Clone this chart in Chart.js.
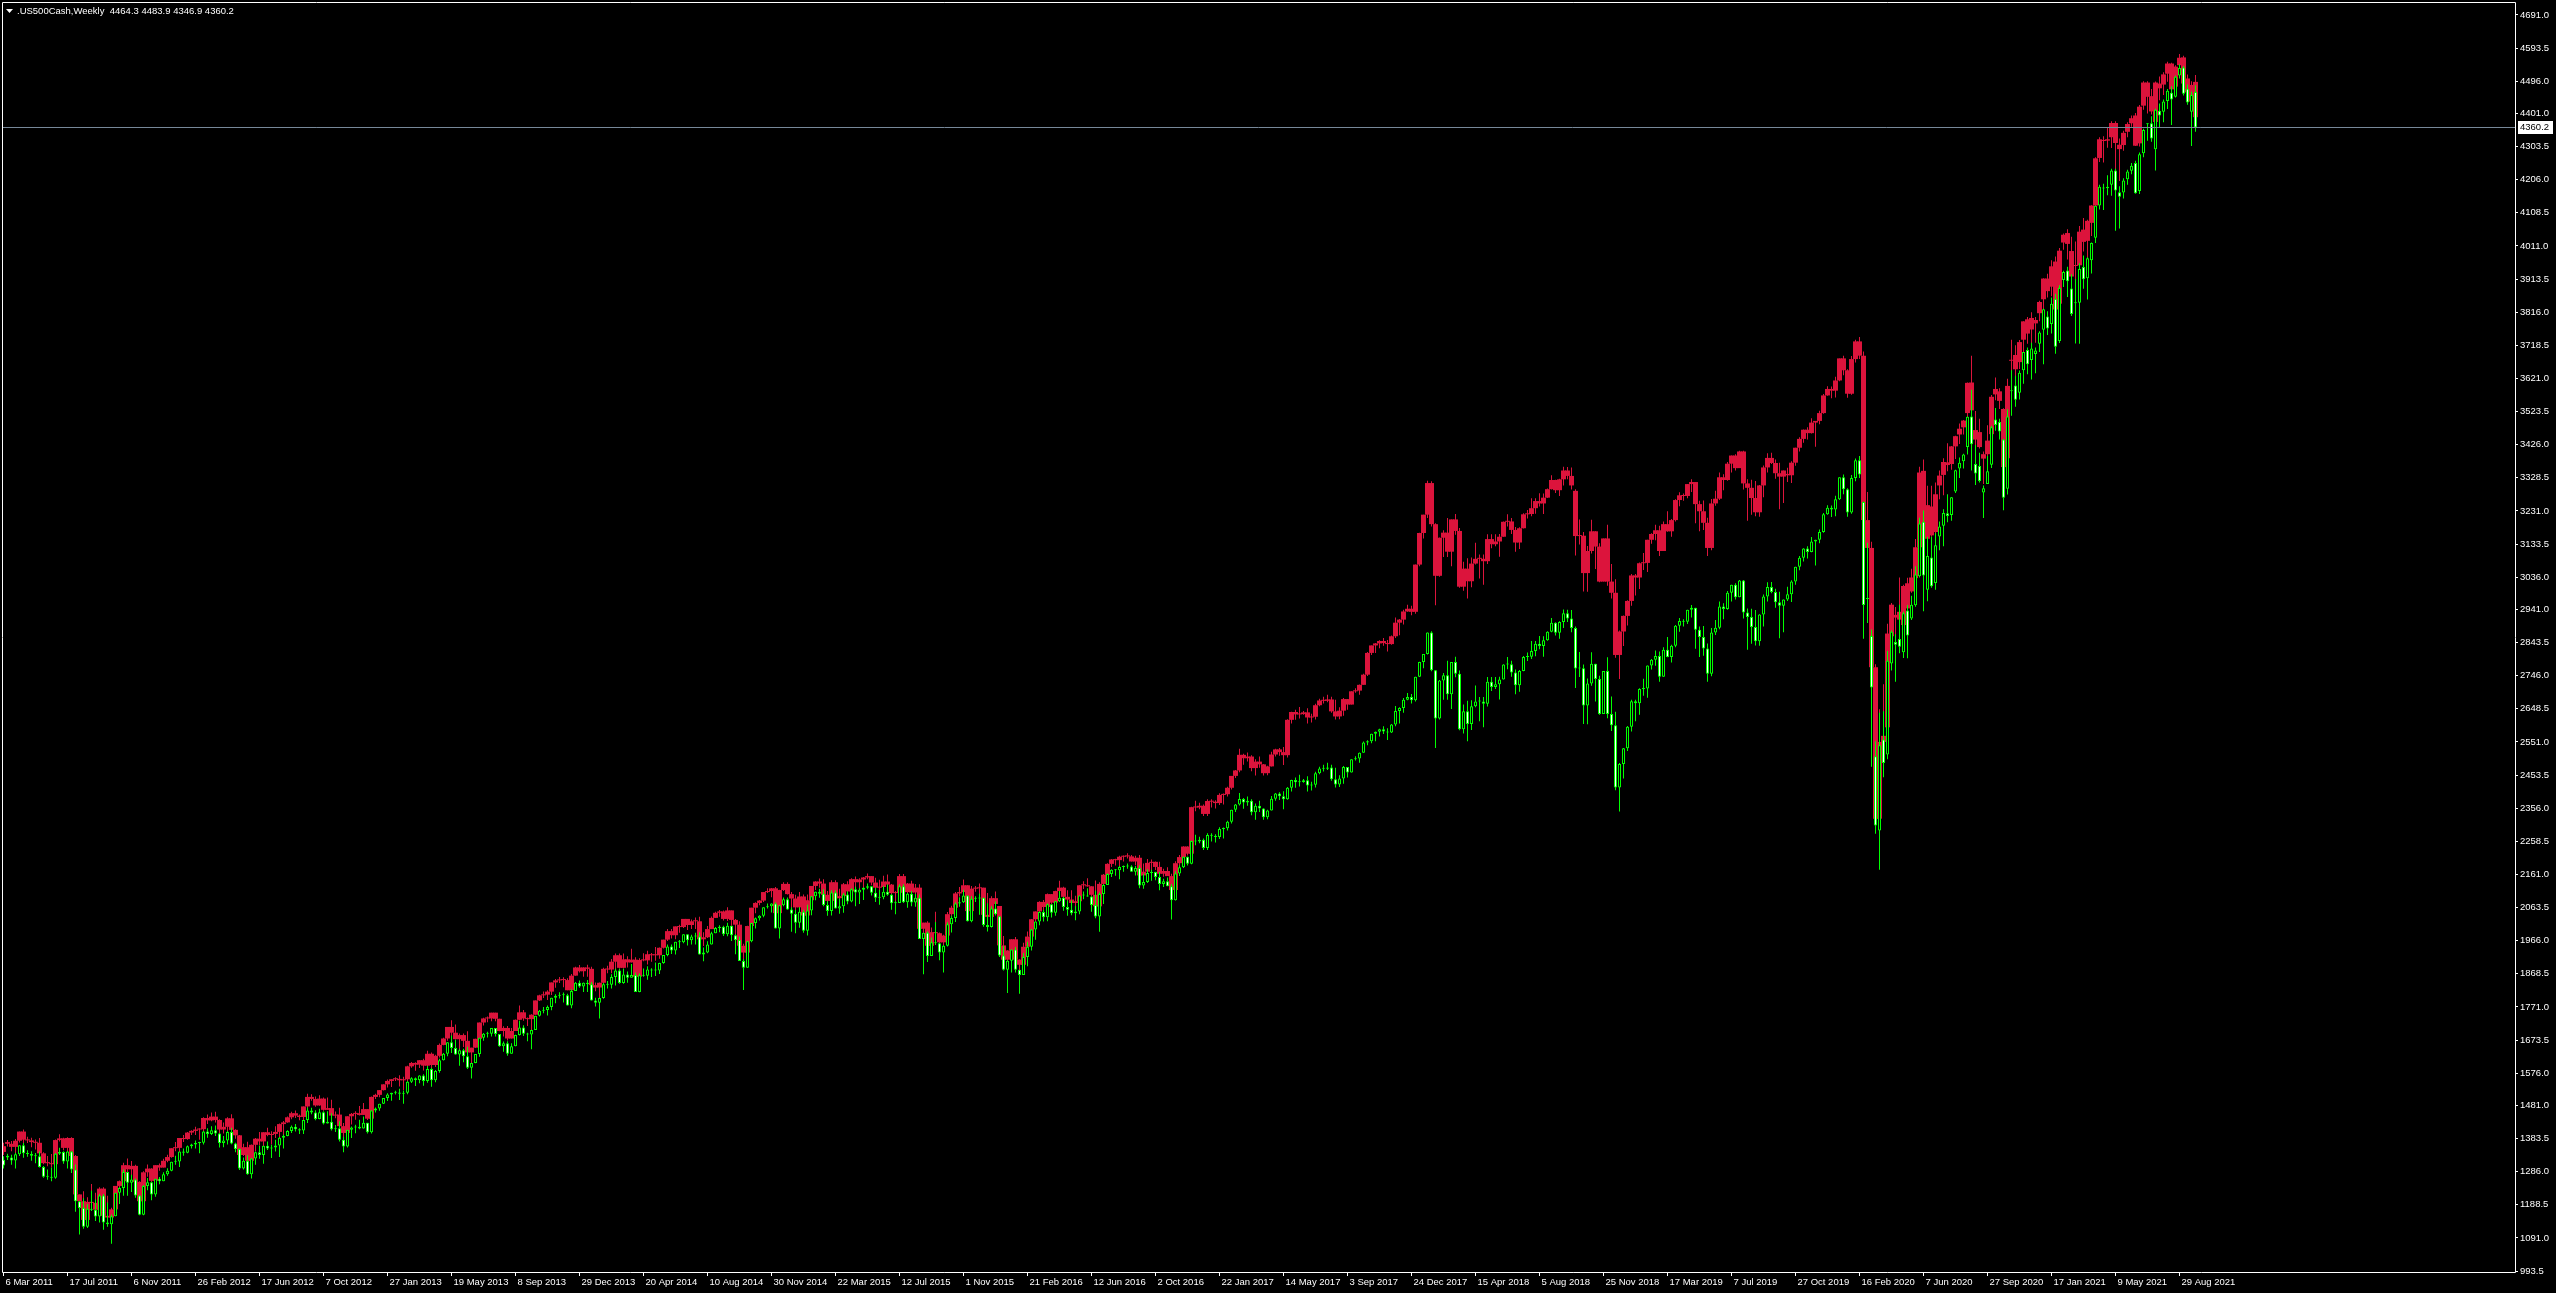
<!DOCTYPE html>
<html>
<head>
    <title>.US500Cash,Weekly</title>
    <script src="https://cdn.jsdelivr.net/npm/chart.js"></script>
    <style>
        body {
            margin: 0;
            padding: 0;
            background-color: #000;
            overflow: hidden;
        }

        canvas {
            display: block;
        }
    </style>
</head>
<body>
    <canvas id="myChart" width="2556" height="1293"></canvas>

    <script>
        var symbolTitle = '.US500Cash,Weekly';
        var lastBar = [4464.3, 4483.9, 4346.9, 4360.2];
        var bidPrice = 4360.2;

        // one date label every 16 weekly bars, starting at bar 0
        var LABEL_STEP = 16;
        var xTickLabels = ['6 Mar 2011', '17 Jul 2011', '6 Nov 2011', '26 Feb 2012', '17 Jun 2012', '7 Oct 2012',
            '27 Jan 2013', '19 May 2013', '8 Sep 2013', '29 Dec 2013', '20 Apr 2014', '10 Aug 2014', '30 Nov 2014',
            '22 Mar 2015', '12 Jul 2015', '1 Nov 2015', '21 Feb 2016', '12 Jun 2016', '2 Oct 2016', '22 Jan 2017',
            '14 May 2017', '3 Sep 2017', '24 Dec 2017', '15 Apr 2018', '5 Aug 2018', '25 Nov 2018', '17 Mar 2019',
            '7 Jul 2019', '27 Oct 2019', '16 Feb 2020', '7 Jun 2020', '27 Sep 2020', '17 Jan 2021', '9 May 2021',
            '29 Aug 2021'];

        var yTickValues = [4691.0, 4593.5, 4496.0, 4401.0, 4303.5, 4206.0, 4108.5, 4011.0, 3913.5, 3816.0, 3718.5,
            3621.0, 3523.5, 3426.0, 3328.5, 3231.0, 3133.5, 3036.0, 2941.0, 2843.5, 2746.0, 2648.5, 2551.0, 2453.5,
            2356.0, 2258.5, 2161.0, 2063.5, 1966.0, 1868.5, 1771.0, 1673.5, 1576.0, 1481.0, 1383.5, 1286.0, 1188.5,
            1091.0, 993.5];

        // green candles (weekly OHLC)
        var greenOpen = [
            1321,1333,1328,1319,1337,1364,1340,1338,1333,1331,
            1300,1271,1271,1268,1339,1344,1316,1345,1292,1199,
            1179,1124,1177,1174,1154,1216,1136,1131,1155,1224,
            1238,1285,1253,1263,1216,1159,1244,1255,1219,1265,
            1258,1278,1289,1315,1316,1345,1342,1361,1366,1370,
            1371,1404,1397,1408,1398,1370,1378,1403,1369,1353,
            1295,1318,1278,1325,1343,1335,1362,1354,1357,1363,
            1386,1391,1406,1418,1411,1407,1438,1466,1460,1441,
            1461,1428,1433,1411,1414,1380,1360,1409,1416,1418,
            1413,1430,1402,1466,1472,1486,1503,1513,1518,1519,
            1515,1518,1551,1561,1556,1569,1553,1588,1555,1582,
            1614,1633,1667,1650,1631,1643,1626,1592,1606,1632,
            1680,1692,1692,1709,1691,1655,1664,1633,1655,1688,
            1710,1692,1690,1703,1745,1760,1762,1771,1798,1804,
            1806,1805,1775,1818,1842,1831,1842,1838,1790,1783,
            1797,1838,1836,1859,1878,1841,1866,1857,1865,1815,
            1864,1863,1881,1878,1878,1900,1924,1949,1937,1963,
            1961,1985,1967,1978,1978,1925,1931,1955,1988,2003,
            2007,1985,2010,1982,1968,1906,1886,1964,2018,2032,
            2039,2064,2067,2075,2002,2070,2088,2058,2045,2019,
            2051,1995,2055,2097,2110,2104,2071,2053,2108,2061,
            2067,2102,2081,2117,2108,2116,2122,2126,2107,2092,
            2094,2110,2101,2076,2077,2126,2079,2104,2078,2092,
            1971,1989,1921,1961,1958,1931,1951,2014,2033,2075,
            2079,2099,2023,2089,2090,2092,2012,2006,2061,2038,
            1922,1880,1907,1940,1880,1865,1918,1948,1999,2022,
            2050,2035,2073,2048,2082,2092,2065,2057,2047,2052,
            2099,2099,2096,2071,2037,2103,2130,2162,2175,2173,
            2183,2184,2184,2169,2180,2128,2139,2165,2168,2153,
            2133,2141,2126,2085,2164,2182,2213,2192,2259,2258,
            2263,2239,2277,2275,2271,2295,2297,2316,2351,2367,
            2383,2373,2378,2344,2363,2355,2329,2349,2384,2399,
            2391,2382,2416,2439,2432,2433,2438,2423,2425,2459,
            2473,2472,2476,2441,2426,2443,2477,2461,2500,2502,
            2519,2549,2553,2575,2581,2588,2582,2579,2602,2642,
            2651,2675,2683,2674,2743,2786,2810,2873,2762,2620,
            2732,2747,2691,2786,2752,2588,2641,2604,2656,2670,
            2670,2663,2728,2713,2721,2735,2779,2780,2755,2718,
            2760,2801,2802,2819,2840,2833,2850,2875,2902,2872,
            2904,2930,2914,2886,2767,2768,2658,2723,2781,2736,
            2633,2760,2633,2600,2417,2486,2532,2596,2671,2665,
            2707,2708,2776,2793,2804,2743,2822,2801,2834,2893,
            2907,2905,2940,2946,2881,2860,2826,2752,2873,2887,
            2950,2942,2990,3014,2977,3026,2932,2919,2889,2847,
            2926,2979,3007,2992,2962,2952,2970,2986,3023,3067,
            3093,3120,3110,3141,3146,3169,3221,3240,3235,3265,
            3330,3295,3226,3328,3380,3257,2974,2863,2509,2290,
            2558,2514,2782,2845,2854,2815,2938,2914,2953,3039,
            3199,2999,3094,3019,3156,3187,3224,3219,3288,3356,
            3377,3419,3509,3369,3363,3285,3310,3367,3500,3493,
            3441,3296,3583,3600,3579,3645,3705,3675,3693,3723,
            3764,3803,3781,3855,3731,3911,3939,3886,3842,3844,
            3949,3916,3969,4035,4130,4183,4185,4191,4233,4169,
            4168,4207,4232,4255,4173,4284,4369,4372,4296,4409,
            4406,4438,4462,4450,4513,4536,4474,4406,4464
        ];
        var greenHigh = [
            1331,1339,1336,1342,1364,1370,1349,1346,1341,1345,
            1303,1292,1298,1341,1356,1346,1347,1347,1307,1199,
            1208,1191,1230,1204,1220,1220,1195,1160,1224,1240,
            1292,1285,1277,1266,1218,1247,1267,1256,1265,1270,
            1284,1296,1315,1333,1345,1354,1363,1368,1378,1374,
            1406,1414,1420,1422,1400,1391,1406,1415,1371,1354,
            1328,1334,1326,1345,1363,1362,1375,1365,1380,1388,
            1395,1408,1422,1426,1414,1438,1475,1474,1467,1471,
            1464,1464,1458,1423,1434,1389,1409,1419,1424,1439,
            1448,1430,1467,1475,1486,1503,1517,1518,1524,1530,
            1525,1553,1564,1563,1570,1573,1597,1592,1585,1618,
            1635,1667,1687,1674,1648,1648,1654,1606,1632,1680,
            1694,1698,1709,1709,1691,1669,1670,1664,1689,1730,
            1717,1695,1704,1745,1762,1771,1775,1798,1808,1814,
            1813,1810,1823,1844,1849,1843,1850,1844,1798,1798,
            1841,1847,1867,1883,1883,1883,1875,1897,1872,1869,
            1884,1891,1885,1902,1901,1924,1955,1955,1963,1968,
            1985,1985,1983,1989,1991,1946,1964,1992,2006,2011,
            2010,2019,2010,1985,1978,1912,1965,2018,2034,2041,
            2064,2075,2076,2079,2071,2093,2093,2064,2056,2064,
            2057,2072,2097,2111,2119,2117,2082,2114,2114,2089,
            2106,2111,2120,2125,2120,2123,2134,2126,2121,2115,
            2127,2131,2103,2082,2132,2132,2106,2112,2103,2102,
            1989,1993,1975,2021,1960,1953,2020,2039,2079,2094,
            2116,2099,2097,2097,2104,2092,2076,2067,2081,2038,
            1950,1908,1940,1947,1881,1930,1963,2000,2022,2052,
            2056,2075,2073,2083,2112,2095,2084,2084,2068,2099,
            2111,2120,2096,2113,2108,2132,2164,2176,2177,2186,
            2187,2193,2188,2186,2188,2163,2176,2175,2169,2168,
            2148,2152,2133,2170,2188,2214,2214,2260,2278,2272,
            2267,2282,2282,2279,2300,2299,2319,2351,2368,2401,
            2386,2390,2382,2370,2378,2356,2351,2392,2401,2403,
            2406,2418,2440,2446,2454,2442,2450,2434,2463,2478,
            2484,2490,2484,2475,2453,2480,2477,2500,2509,2520,
            2552,2556,2575,2582,2590,2597,2591,2604,2657,2653,
            2680,2695,2692,2743,2787,2810,2873,2877,2763,2733,
            2754,2790,2786,2802,2761,2661,2672,2674,2717,2683,
            2683,2742,2742,2742,2743,2780,2801,2790,2764,2763,
            2804,2814,2848,2848,2863,2862,2877,2916,2903,2906,
            2941,2940,2939,2891,2816,2779,2738,2815,2781,2746,
            2760,2800,2685,2640,2489,2533,2598,2675,2675,2709,
            2737,2776,2795,2820,2817,2830,2860,2837,2895,2916,
            2912,2940,2954,2946,2891,2892,2841,2886,2910,2964,
            2959,2995,3014,3018,3028,3028,2944,2943,2939,2927,
            2985,3021,3022,3002,2993,2970,3008,3027,3067,3098,
            3121,3127,3154,3146,3176,3225,3248,3247,3276,3330,
            3338,3298,3337,3385,3393,3259,3137,2882,2553,2637,
            2641,2819,2880,2868,2955,2934,2954,2981,3068,3211,
            3232,3155,3155,3165,3200,3236,3280,3272,3352,3388,
            3399,3509,3588,3425,3402,3306,3393,3482,3534,3502,
            3443,3530,3645,3629,3644,3699,3712,3726,3712,3760,
            3826,3819,3859,3870,3895,3938,3950,3928,3914,3960,
            3983,3978,4021,4129,4191,4194,4219,4238,4238,4187,
            4210,4235,4255,4262,4286,4356,4372,4393,4415,4430,
            4442,4473,4481,4513,4546,4541,4486,4466,4484
        ];
        var greenLow = [
            1295,1320,1306,1295,1332,1327,1330,1318,1311,1298,
            1268,1262,1258,1265,1335,1309,1295,1282,1168,1101,
            1118,1120,1170,1141,1136,1115,1124,1074,1155,1191,
            1215,1215,1226,1209,1158,1158,1231,1202,1212,1249,
            1258,1274,1287,1306,1300,1333,1340,1354,1354,1340,
            1366,1386,1394,1391,1357,1358,1366,1367,1343,1291,
            1292,1277,1266,1306,1324,1309,1350,1326,1345,1329,
            1354,1390,1400,1404,1397,1397,1429,1455,1437,1440,
            1425,1428,1407,1403,1375,1343,1357,1385,1399,1411,
            1413,1398,1398,1460,1465,1485,1494,1495,1513,1497,
            1486,1514,1547,1538,1546,1539,1548,1536,1549,1577,
            1613,1626,1635,1630,1598,1608,1588,1560,1605,1624,
            1671,1681,1684,1684,1654,1639,1627,1633,1655,1687,
            1685,1670,1646,1703,1743,1752,1746,1761,1782,1796,
            1784,1775,1767,1818,1827,1815,1815,1790,1772,1737,
            1795,1825,1825,1834,1839,1839,1842,1857,1815,1814,
            1860,1851,1859,1862,1868,1898,1920,1927,1925,1944,
            1958,1952,1955,1955,1925,1905,1929,1955,1988,1991,
            1980,1979,1965,1926,1906,1821,1886,1961,2002,2025,
            2035,2061,2049,2002,1972,2067,2057,1992,1988,2004,
            1989,1981,2041,2085,2092,2067,2039,2040,2061,2045,
            2048,2073,2079,2067,2074,2086,2117,2099,2080,2072,
            2088,2098,2057,2044,2077,2077,2063,2067,2066,1971,
            1867,1903,1921,1953,1908,1872,1949,1990,2021,2066,
            2077,2022,2020,2080,2042,2007,1993,2005,2040,1918,
            1878,1812,1872,1872,1810,1865,1891,1937,1969,2011,
            2022,2023,2034,2039,2080,2054,2039,2041,2026,2044,
            2088,2095,2051,2032,1992,2074,2130,2153,2157,2147,
            2169,2178,2169,2158,2120,2119,2136,2142,2144,2114,
            2124,2126,2028,2084,2156,2180,2187,2191,2247,2253,
            2233,2233,2258,2255,2265,2267,2290,2311,2345,2364,
            2354,2363,2335,2322,2345,2322,2323,2349,2378,2380,
            2353,2381,2405,2416,2420,2431,2405,2408,2417,2456,
            2464,2468,2437,2417,2418,2428,2446,2461,2496,2490,
            2519,2541,2547,2553,2567,2574,2557,2577,2597,2605,
            2637,2674,2664,2670,2742,2768,2808,2759,2533,2617,
            2675,2675,2648,2741,2585,2576,2553,2586,2653,2612,
            2594,2655,2701,2707,2676,2735,2765,2743,2691,2699,
            2759,2789,2795,2803,2824,2802,2849,2874,2864,2855,
            2886,2904,2874,2710,2742,2604,2603,2716,2670,2631,
            2633,2621,2583,2409,2346,2443,2524,2582,2612,2631,
            2687,2681,2764,2775,2728,2743,2800,2785,2830,2875,
            2891,2898,2917,2825,2801,2805,2728,2744,2866,2883,
            2912,2940,2964,2970,2977,2914,2822,2840,2835,2834,
            2891,2964,2989,2946,2856,2874,2966,2963,3014,3056,
            3082,3091,3109,3070,3136,3167,3220,3213,3215,3263,
            3280,3214,3223,3318,3328,2855,2901,2478,2281,2175,
            2447,2500,2761,2728,2812,2798,2797,2910,2949,3035,
            2936,2965,3005,2999,3115,3127,3198,3202,3284,3328,
            3356,3397,3350,3307,3315,3210,3310,3357,3467,3441,
            3233,3279,3511,3538,3559,3605,3633,3618,3636,3699,
            3663,3749,3753,3694,3725,3890,3861,3805,3724,3723,
            3885,3853,3930,4020,4118,4117,4160,4159,4056,4062,
            4151,4191,4222,4165,4164,4272,4321,4318,4233,4360,
            4375,4414,4367,4448,4504,4454,4427,4305,4347
        ];
        var greenClose = [
            1304,1328,1319,1337,1364,1340,1338,1333,1331,1300,
            1271,1271,1268,1339,1344,1316,1345,1292,1199,1179,
            1124,1177,1174,1154,1216,1136,1131,1155,1224,1238,
            1285,1253,1263,1216,1159,1244,1255,1219,1265,1258,
            1278,1289,1315,1316,1345,1342,1361,1366,1370,1371,
            1404,1397,1408,1398,1370,1378,1403,1369,1353,1295,
            1318,1278,1325,1343,1335,1362,1354,1357,1363,1386,
            1391,1406,1418,1411,1407,1438,1466,1460,1441,1461,
            1428,1433,1411,1414,1380,1360,1409,1416,1418,1413,
            1430,1402,1466,1472,1486,1503,1513,1518,1519,1515,
            1518,1551,1561,1556,1569,1553,1588,1555,1582,1614,
            1633,1667,1650,1631,1643,1626,1592,1606,1632,1680,
            1692,1692,1709,1691,1655,1664,1633,1655,1688,1710,
            1692,1690,1703,1745,1760,1762,1771,1798,1804,1806,
            1805,1775,1818,1842,1831,1842,1838,1790,1783,1797,
            1838,1836,1859,1878,1841,1866,1857,1865,1815,1864,
            1863,1881,1878,1878,1900,1924,1949,1937,1963,1961,
            1985,1967,1978,1978,1925,1931,1955,1988,2003,2007,
            1985,2010,1982,1968,1906,1886,1964,2018,2032,2039,
            2064,2067,2075,2002,2070,2088,2058,2045,2019,2051,
            1995,2055,2097,2110,2104,2071,2053,2108,2061,2067,
            2102,2081,2117,2108,2116,2122,2126,2107,2092,2094,
            2110,2101,2076,2077,2126,2079,2104,2078,2092,1971,
            1989,1921,1961,1958,1931,1951,2014,2033,2075,2079,
            2099,2023,2089,2090,2092,2012,2006,2061,2044,1922,
            1880,1907,1940,1880,1865,1918,1948,1999,2022,2050,
            2035,2073,2048,2082,2092,2065,2057,2047,2052,2099,
            2099,2096,2071,2037,2103,2130,2162,2175,2173,2183,
            2184,2184,2169,2180,2128,2139,2165,2168,2153,2133,
            2141,2126,2085,2164,2182,2213,2192,2259,2258,2263,
            2239,2277,2275,2271,2295,2297,2316,2351,2367,2383,
            2373,2378,2344,2363,2355,2329,2349,2384,2399,2391,
            2382,2416,2439,2432,2433,2438,2423,2425,2459,2473,
            2472,2476,2441,2426,2443,2477,2461,2500,2502,2519,
            2549,2553,2575,2581,2588,2582,2579,2602,2642,2651,
            2675,2683,2674,2743,2786,2810,2873,2762,2620,2732,
            2747,2691,2786,2752,2588,2641,2604,2656,2670,2670,
            2663,2728,2713,2721,2735,2779,2780,2755,2718,2760,
            2801,2802,2819,2840,2833,2850,2875,2902,2872,2904,
            2930,2914,2886,2767,2768,2658,2723,2781,2736,2633,
            2760,2633,2600,2417,2486,2532,2596,2671,2665,2707,
            2708,2776,2793,2804,2743,2822,2801,2834,2893,2907,
            2905,2940,2946,2881,2860,2826,2752,2873,2887,2950,
            2942,2990,3014,2977,3026,2932,2919,2889,2847,2926,
            2979,3007,2992,2962,2952,2970,2986,3023,3067,3093,
            3120,3110,3141,3146,3169,3221,3240,3235,3265,3330,
            3295,3226,3328,3380,3338,2954,2972,2711,2305,2541,
            2489,2790,2875,2837,2831,2930,2864,2955,3044,3194,
            3041,3098,3009,3130,3185,3225,3216,3271,3351,3373,
            3397,3508,3427,3341,3319,3298,3348,3477,3484,3465,
            3270,3509,3585,3558,3638,3699,3663,3709,3703,3756,
            3825,3768,3841,3714,3887,3934,3907,3811,3842,3943,
            3913,3975,4020,4129,4185,4180,4181,4233,4174,4156,
            4204,4230,4247,4166,4281,4352,4370,4327,4412,4395,
            4436,4468,4442,4509,4535,4459,4433,4455,4360
        ];

        // red candles (weekly OHLC)
        var redOpen = [
            1361,1373,1368,1359,1377,1404,1380,1378,1373,1371,
            1340,1311,1311,1308,1379,1384,1356,1385,1332,1219,
            1199,1144,1197,1194,1174,1236,1156,1151,1175,1244,
            1258,1305,1293,1303,1256,1199,1284,1295,1259,1305,
            1298,1318,1329,1355,1356,1385,1382,1401,1406,1410,
            1411,1444,1437,1448,1438,1410,1418,1443,1409,1393,
            1335,1358,1318,1365,1383,1375,1402,1394,1397,1403,
            1426,1431,1446,1458,1451,1447,1478,1506,1500,1481,
            1501,1468,1473,1451,1454,1420,1400,1449,1456,1458,
            1453,1470,1442,1506,1512,1526,1543,1553,1558,1559,
            1555,1558,1596,1606,1601,1614,1598,1633,1600,1627,
            1659,1678,1712,1695,1676,1688,1671,1637,1651,1677,
            1725,1737,1737,1754,1736,1700,1709,1678,1700,1733,
            1755,1737,1735,1748,1790,1805,1807,1816,1843,1849,
            1851,1850,1820,1863,1887,1876,1887,1883,1835,1828,
            1842,1883,1881,1904,1923,1886,1911,1902,1910,1860,
            1909,1908,1926,1923,1923,1945,1969,1994,1982,2008,
            2006,2030,2012,2023,2023,1970,1976,2000,2033,2048,
            2052,2030,2055,2027,2013,1951,1931,2009,2063,2077,
            2084,2109,2112,2120,2047,2115,2133,2103,2090,2064,
            2096,2040,2085,2127,2140,2134,2101,2083,2138,2091,
            2097,2132,2111,2147,2138,2146,2152,2156,2137,2122,
            2124,2140,2131,2106,2107,2156,2109,2134,2108,2122,
            2001,2019,1951,1991,1988,1961,1981,2044,2063,2105,
            2109,2129,2053,2119,2120,2122,2042,2036,2091,2068,
            1952,1910,1937,1970,1910,1895,1948,1978,2029,2052,
            2080,2065,2103,2078,2112,2122,2095,2087,2077,2082,
            2129,2129,2126,2101,2067,2133,2160,2192,2205,2203,
            2213,2214,2214,2199,2210,2158,2169,2195,2198,2183,
            2163,2171,2156,2115,2194,2212,2243,2222,2359,2358,
            2363,2339,2377,2375,2371,2395,2397,2416,2451,2467,
            2513,2503,2508,2474,2493,2485,2459,2479,2514,2529,
            2521,2512,2616,2639,2632,2633,2638,2623,2625,2659,
            2673,2672,2676,2641,2626,2643,2677,2661,2700,2702,
            2719,2749,2813,2835,2841,2848,2842,2839,2862,2902,
            2911,2935,2943,2934,3073,3166,3220,3313,3192,3040,
            3152,3167,3111,3206,3172,3008,3061,3024,3076,3090,
            3090,3083,3148,3133,3141,3155,3199,3200,3175,3138,
            3180,3221,3222,3239,3260,3253,3270,3295,3322,3292,
            3324,3350,3334,3290,3157,3158,3048,3113,3171,3126,
            3023,3150,3023,2990,2807,2876,2922,2966,3041,3035,
            3077,3078,3146,3163,3174,3113,3192,3171,3204,3263,
            3277,3275,3310,3316,3251,3230,3196,3122,3253,3267,
            3330,3322,3370,3394,3357,3406,3312,3299,3269,3227,
            3306,3359,3387,3372,3342,3332,3340,3336,3373,3417,
            3443,3470,3460,3491,3496,3519,3571,3590,3585,3615,
            3680,3645,3576,3678,3730,3688,3204,3122,2771,2325,
            2551,2594,2862,2925,2934,2895,3018,2994,3033,3124,
            3349,3149,3244,3169,3306,3337,3374,3369,3421,3456,
            3477,3519,3609,3469,3463,3385,3398,3457,3590,3583,
            3531,3386,3673,3690,3669,3735,3795,3765,3783,3813,
            3854,3915,3891,3965,3841,4021,4049,3996,3952,3954,
            4059,4026,4079,4130,4270,4323,4325,4331,4373,4309,
            4308,4347,4372,4395,4313,4424,4492,4452,4376,4489,
            4486,4518,4548,4480,4543,4566,4504,4436,4494
        ];
        var redHigh = [
            1371,1379,1376,1382,1404,1410,1389,1386,1381,1385,
            1343,1332,1338,1381,1396,1386,1387,1387,1335,1219,
            1228,1211,1250,1224,1240,1240,1215,1180,1244,1260,
            1312,1325,1317,1306,1258,1287,1307,1296,1305,1310,
            1324,1336,1355,1373,1385,1394,1403,1408,1418,1414,
            1446,1454,1460,1462,1440,1431,1446,1455,1411,1394,
            1368,1374,1366,1385,1403,1402,1415,1405,1420,1428,
            1435,1448,1462,1466,1454,1478,1515,1514,1507,1511,
            1504,1504,1498,1463,1474,1429,1449,1459,1464,1479,
            1488,1470,1507,1515,1526,1543,1557,1558,1564,1570,
            1565,1598,1609,1608,1615,1618,1642,1637,1630,1663,
            1680,1712,1732,1719,1693,1693,1699,1651,1677,1725,
            1739,1743,1754,1754,1736,1714,1715,1709,1734,1775,
            1762,1740,1749,1790,1807,1816,1820,1843,1853,1859,
            1858,1855,1868,1889,1894,1888,1895,1889,1843,1843,
            1886,1892,1912,1928,1928,1928,1920,1942,1917,1914,
            1929,1936,1930,1947,1946,1969,2000,2000,2008,2013,
            2030,2030,2028,2034,2036,1991,2009,2037,2051,2056,
            2055,2064,2055,2030,2023,1957,2010,2063,2079,2086,
            2109,2120,2121,2124,2116,2138,2138,2109,2101,2109,
            2102,2102,2127,2141,2149,2147,2112,2144,2144,2119,
            2136,2141,2150,2155,2150,2153,2164,2156,2151,2145,
            2157,2161,2133,2112,2162,2162,2136,2142,2133,2132,
            2019,2023,2005,2051,1990,1983,2050,2069,2109,2124,
            2146,2129,2127,2127,2134,2122,2106,2097,2111,2068,
            1980,1938,1970,1977,1911,1960,1993,2030,2052,2082,
            2086,2105,2103,2113,2142,2125,2114,2114,2098,2129,
            2141,2150,2126,2143,2138,2162,2194,2206,2207,2216,
            2217,2223,2218,2216,2218,2193,2206,2205,2199,2198,
            2178,2182,2163,2200,2218,2244,2244,2360,2378,2372,
            2367,2382,2382,2379,2400,2399,2419,2451,2468,2531,
            2516,2520,2512,2500,2508,2486,2481,2522,2531,2533,
            2536,2618,2640,2646,2654,2642,2650,2634,2663,2678,
            2684,2690,2684,2675,2653,2680,2677,2700,2709,2720,
            2752,2816,2835,2842,2850,2857,2851,2864,2917,2913,
            2940,2955,2952,3073,3167,3220,3320,3318,3195,3153,
            3174,3210,3206,3222,3181,3081,3092,3094,3137,3103,
            3103,3162,3162,3162,3163,3200,3221,3210,3184,3183,
            3224,3234,3268,3268,3283,3282,3297,3336,3323,3326,
            3361,3360,3359,3295,3206,3169,3128,3205,3171,3136,
            3150,3190,3075,3030,2879,2923,2968,3045,3045,3079,
            3107,3146,3165,3190,3187,3200,3230,3207,3265,3286,
            3282,3310,3324,3316,3261,3262,3211,3266,3290,3344,
            3339,3375,3394,3398,3408,3408,3324,3323,3319,3307,
            3365,3401,3402,3382,3373,3350,3358,3377,3417,3448,
            3471,3477,3504,3496,3526,3575,3598,3597,3626,3680,
            3688,3648,3687,3735,3743,3700,3287,3140,2780,2647,
            2721,2899,2960,2948,3035,3014,3034,3061,3148,3361,
            3382,3305,3305,3315,3350,3386,3430,3422,3452,3488,
            3499,3609,3688,3525,3502,3406,3483,3572,3624,3592,
            3533,3620,3735,3719,3734,3789,3802,3816,3802,3850,
            3916,3929,3969,3980,4005,4048,4060,4038,4024,4070,
            4093,4088,4131,4272,4331,4334,4359,4378,4378,4327,
            4350,4375,4395,4402,4426,4496,4496,4473,4495,4510,
            4522,4553,4550,4543,4576,4571,4516,4496,4514
        ];
        var redLow = [
            1335,1360,1346,1335,1372,1367,1370,1358,1351,1338,
            1308,1302,1298,1305,1375,1349,1335,1322,1188,1121,
            1138,1140,1190,1161,1156,1135,1144,1094,1175,1211,
            1235,1255,1266,1249,1198,1198,1271,1242,1252,1289,
            1298,1314,1327,1346,1340,1373,1380,1394,1394,1380,
            1406,1426,1434,1431,1397,1398,1406,1407,1383,1331,
            1332,1317,1306,1346,1364,1349,1390,1366,1385,1369,
            1394,1430,1440,1444,1437,1437,1469,1495,1477,1480,
            1465,1468,1447,1443,1415,1383,1397,1425,1439,1451,
            1453,1438,1438,1500,1505,1525,1534,1535,1553,1537,
            1526,1552,1592,1583,1591,1584,1593,1581,1594,1622,
            1658,1671,1680,1675,1643,1653,1633,1605,1650,1669,
            1716,1726,1729,1729,1699,1684,1672,1678,1700,1732,
            1730,1715,1691,1748,1788,1797,1791,1806,1827,1841,
            1829,1820,1812,1863,1872,1860,1860,1835,1817,1782,
            1840,1870,1870,1879,1884,1884,1887,1902,1860,1859,
            1905,1896,1904,1907,1913,1943,1965,1972,1970,1989,
            2003,1997,2000,2000,1970,1950,1974,2000,2033,2036,
            2025,2024,2010,1971,1951,1866,1931,2006,2047,2070,
            2080,2106,2094,2047,2017,2112,2102,2037,2033,2049,
            2034,2011,2071,2115,2122,2097,2069,2070,2091,2075,
            2078,2103,2109,2097,2104,2116,2147,2129,2110,2102,
            2118,2128,2087,2074,2107,2107,2093,2097,2096,2001,
            1897,1933,1951,1983,1938,1902,1979,2020,2051,2096,
            2107,2052,2050,2110,2072,2037,2023,2035,2070,1948,
            1908,1842,1902,1902,1840,1895,1921,1967,1999,2041,
            2052,2053,2064,2069,2110,2084,2069,2071,2056,2074,
            2118,2125,2081,2062,2022,2104,2160,2183,2187,2177,
            2199,2208,2199,2188,2150,2149,2166,2172,2174,2144,
            2154,2156,2058,2114,2186,2210,2217,2215,2347,2353,
            2333,2333,2358,2355,2365,2367,2390,2411,2445,2462,
            2484,2493,2465,2452,2475,2452,2453,2479,2508,2510,
            2483,2505,2605,2616,2620,2631,2605,2608,2617,2656,
            2664,2668,2637,2617,2618,2628,2646,2661,2696,2690,
            2719,2745,2807,2813,2827,2834,2817,2837,2857,2865,
            2897,2934,2924,2928,3068,3150,3210,3185,2953,3037,
            3095,3095,3068,3161,3005,2996,2973,3006,3073,3032,
            3014,3075,3121,3127,3096,3155,3185,3163,3111,3119,
            3179,3209,3215,3223,3244,3222,3269,3294,3284,3275,
            3306,3324,3294,3100,3132,2994,2993,3106,3060,3021,
            3023,3011,2973,2799,2736,2833,2894,2952,2982,3001,
            3057,3051,3134,3145,3098,3113,3170,3155,3200,3245,
            3261,3268,3287,3195,3171,3175,3098,3115,3246,3263,
            3292,3320,3344,3350,3357,3294,3202,3220,3215,3214,
            3271,3344,3369,3326,3236,3254,3316,3313,3364,3406,
            3432,3441,3459,3420,3486,3517,3570,3563,3565,3613,
            3630,3564,3573,3668,3678,3105,3051,2538,2300,2185,
            2527,2580,2841,2808,2892,2878,2877,2990,3029,3110,
            3086,3115,3155,3149,3265,3277,3348,3352,3384,3428,
            3456,3497,3450,3407,3415,3310,3390,3447,3557,3531,
            3323,3369,3601,3628,3649,3695,3723,3708,3726,3789,
            3753,3859,3863,3804,3835,4000,3971,3915,3834,3833,
            3995,3963,4040,4125,4258,4257,4300,4299,4196,4202,
            4291,4331,4362,4305,4304,4412,4401,4398,4313,4440,
            4455,4494,4397,4478,4534,4484,4457,4335,4377
        ];
        var redClose = [
            1344,1368,1359,1377,1404,1380,1378,1373,1371,1340,
            1311,1311,1308,1379,1384,1356,1385,1332,1219,1199,
            1144,1197,1194,1174,1236,1156,1151,1175,1244,1258,
            1305,1293,1303,1256,1199,1284,1295,1259,1305,1298,
            1318,1329,1355,1356,1385,1382,1401,1406,1410,1411,
            1444,1437,1448,1438,1410,1418,1443,1409,1393,1335,
            1358,1318,1365,1383,1375,1402,1394,1397,1403,1426,
            1431,1446,1458,1451,1447,1478,1506,1500,1481,1501,
            1468,1473,1451,1454,1420,1400,1449,1456,1458,1453,
            1470,1442,1506,1512,1526,1543,1553,1558,1559,1555,
            1558,1596,1606,1601,1614,1598,1633,1600,1627,1659,
            1678,1712,1695,1676,1688,1671,1637,1651,1677,1725,
            1737,1737,1754,1736,1700,1709,1678,1700,1733,1755,
            1737,1735,1748,1790,1805,1807,1816,1843,1849,1851,
            1850,1820,1863,1887,1876,1887,1883,1835,1828,1842,
            1883,1881,1904,1923,1886,1911,1902,1910,1860,1909,
            1908,1926,1923,1923,1945,1969,1994,1982,2008,2006,
            2030,2012,2023,2023,1970,1976,2000,2033,2048,2052,
            2030,2055,2027,2013,1951,1931,2009,2063,2077,2084,
            2109,2112,2120,2047,2115,2133,2103,2090,2064,2096,
            2040,2085,2127,2140,2134,2101,2083,2138,2091,2097,
            2132,2111,2147,2138,2146,2152,2156,2137,2122,2124,
            2140,2131,2106,2107,2156,2109,2134,2108,2122,2001,
            2019,1951,1991,1988,1961,1981,2044,2063,2105,2109,
            2129,2053,2119,2120,2122,2042,2036,2091,2074,1952,
            1910,1937,1970,1910,1895,1948,1978,2029,2052,2080,
            2065,2103,2078,2112,2122,2095,2087,2077,2082,2129,
            2129,2126,2101,2067,2133,2160,2192,2205,2203,2213,
            2214,2214,2199,2210,2158,2169,2195,2198,2183,2163,
            2171,2156,2115,2194,2212,2243,2222,2359,2358,2363,
            2339,2377,2375,2371,2395,2397,2416,2451,2467,2513,
            2503,2508,2474,2493,2485,2459,2479,2514,2529,2521,
            2512,2616,2639,2632,2633,2638,2623,2625,2659,2673,
            2672,2676,2641,2626,2643,2677,2661,2700,2702,2719,
            2749,2813,2835,2841,2848,2842,2839,2862,2902,2911,
            2935,2943,2934,3073,3166,3220,3313,3192,3040,3152,
            3167,3111,3206,3172,3008,3061,3024,3076,3090,3090,
            3083,3148,3133,3141,3155,3199,3200,3175,3138,3180,
            3221,3222,3239,3260,3253,3270,3295,3322,3292,3324,
            3350,3334,3306,3157,3158,3048,3113,3171,3126,3023,
            3150,3023,2990,2807,2876,2922,2966,3041,3035,3077,
            3078,3146,3163,3174,3113,3192,3171,3204,3263,3277,
            3275,3310,3316,3251,3230,3196,3122,3253,3267,3330,
            3322,3370,3394,3357,3406,3312,3299,3269,3227,3306,
            3359,3387,3372,3342,3332,3350,3336,3373,3417,3443,
            3470,3460,3491,3496,3519,3571,3590,3585,3615,3680,
            3645,3576,3678,3730,3688,3204,3122,2771,2325,2551,
            2569,2870,2955,2917,2911,3010,2944,3035,3124,3344,
            3191,3248,3159,3280,3335,3375,3366,3421,3451,3473,
            3497,3608,3527,3441,3419,3398,3438,3567,3574,3555,
            3360,3599,3675,3648,3728,3789,3753,3799,3793,3846,
            3915,3878,3951,3824,3997,4044,4017,3921,3952,4053,
            4023,4085,4130,4269,4325,4320,4321,4373,4314,4296,
            4344,4370,4387,4306,4421,4492,4450,4407,4492,4475,
            4516,4548,4472,4539,4565,4489,4463,4485,4390
        ];

        var LIME = '#00ff00';
        var CRIMSON = '#dc143c';
        var LINE_GRAY = '#778899';
        var FONT = "'Liberation Sans', Arial, sans-serif";
        var FONT_SIZE = 9.5;

        function bodies(open, close) {
            return open.map(function (o, i) { return { x: i, y: [o, close[i]] }; });
        }

        function wicks(low, high) {
            return low.map(function (l, i) { return { x: i, y: [l, high[i]] }; });
        }

        // bull candles are hollow (black), bear candles are filled white
        var greenFill = greenOpen.map(function (o, i) {
            return greenClose[i] >= o ? '#000000' : '#ffffff';
        });

        var background = {
            id: 'background',
            beforeDraw: function (chart) {
                var c = chart.ctx;
                c.save();
                c.fillStyle = '#000000';
                c.fillRect(0, 0, chart.width, chart.height);
                c.restore();
            }
        };

        // bid line, white frame, title line
        var overlay = {
            id: 'overlay',
            afterDatasetsDraw: function (chart) {
                var c = chart.ctx;
                var a = chart.chartArea;
                var y = Math.round(chart.scales.y.getPixelForValue(bidPrice)) + 0.5;
                c.save();
                c.strokeStyle = LINE_GRAY;
                c.lineWidth = 1;
                c.beginPath();
                c.moveTo(a.left, y);
                c.lineTo(a.right, y);
                c.stroke();
                c.restore();
            },
            afterDraw: function (chart) {
                var c = chart.ctx;
                var a = chart.chartArea;
                var y = Math.round(chart.scales.y.getPixelForValue(bidPrice)) + 0.5;
                c.save();
                c.strokeStyle = '#ffffff';
                c.lineWidth = 1;
                c.beginPath();
                c.moveTo(a.left + 0.5, a.bottom + 0.5);
                c.lineTo(a.left + 0.5, a.top + 0.5);
                c.lineTo(a.right + 0.5, a.top + 0.5);
                c.lineTo(a.right + 0.5, a.bottom + 0.5);
                c.lineTo(a.left + 0.5, a.bottom + 0.5);
                c.stroke();

                // price label box
                c.fillStyle = '#ffffff';
                c.fillRect(a.right + 3, y - 6.5, 35, 13);
                c.fillStyle = '#000000';
                c.font = FONT_SIZE + 'px ' + FONT;
                c.textBaseline = 'middle';
                c.textAlign = 'left';
                c.fillText(bidPrice.toFixed(1), a.right + 5, y);

                // title
                c.fillStyle = '#ffffff';
                c.beginPath();
                c.moveTo(6, 9);
                c.lineTo(13, 9);
                c.lineTo(9.5, 13);
                c.closePath();
                c.fill();
                c.fillText(symbolTitle + '  ' + lastBar.map(function (v) { return v.toFixed(1); }).join(' '), 17, 11);
                c.restore();
            }
        };

        Chart.defaults.font.family = FONT;
        Chart.defaults.font.size = FONT_SIZE;
        Chart.defaults.color = '#ffffff';

        var ctx = document.getElementById('myChart').getContext('2d');
        var myChart = new Chart(ctx, {
            type: 'bar',
            data: {
                datasets: [{
                    label: 'green body',
                    data: bodies(greenOpen, greenClose),
                    backgroundColor: greenFill,
                    borderColor: LIME,
                    borderWidth: 1,
                    borderSkipped: false,
                    barThickness: 3,
                    minBarLength: 1,
                    grouped: false,
                    inflateAmount: 0
                }, {
                    label: 'green wick',
                    data: wicks(greenLow, greenHigh),
                    backgroundColor: LIME,
                    barThickness: 1,
                    grouped: false,
                    inflateAmount: 0
                }, {
                    label: 'red body',
                    data: bodies(redOpen, redClose),
                    backgroundColor: CRIMSON,
                    barThickness: 5,
                    minBarLength: 1,
                    grouped: false,
                    inflateAmount: 0
                }, {
                    label: 'red wick',
                    data: wicks(redLow, redHigh),
                    backgroundColor: CRIMSON,
                    barThickness: 1,
                    grouped: false,
                    inflateAmount: 0
                }]
            },
            options: {
                responsive: false,
                animation: false,
                devicePixelRatio: 1,
                events: [],
                layout: { padding: { left: 2, top: 2, right: 0, bottom: 0 } },
                plugins: {
                    legend: { display: false },
                    tooltip: { enabled: false }
                },
                scales: {
                    x: {
                        type: 'linear',
                        offset: false,
                        min: -0.375,
                        max: 627.875,
                        afterBuildTicks: function (scale) {
                            scale.ticks = xTickLabels.map(function (t, k) { return { value: k * LABEL_STEP }; });
                        },
                        afterFit: function (scale) {
                            scale.height = 21;
                            scale.paddingLeft = 0;
                            scale.paddingRight = 0;
                        },
                        grid: { offset: false, drawOnChartArea: false, tickLength: 4, color: '#ffffff' },
                        border: { display: false },
                        ticks: {
                            autoSkip: false,
                            maxRotation: 0,
                            align: 'start',
                            labelOffset: 2,
                            padding: 1,
                            callback: function (value) { return xTickLabels[Math.round(value / LABEL_STEP)]; }
                        }
                    },
                    y: {
                        position: 'right',
                        min: 990.6,
                        max: 4729.1,
                        afterBuildTicks: function (scale) {
                            scale.ticks = yTickValues.map(function (v) { return { value: v }; });
                        },
                        afterFit: function (scale) {
                            scale.width = 41;
                            scale.paddingTop = 0;
                            scale.paddingBottom = 0;
                        },
                        grid: { drawOnChartArea: false, tickLength: 3, color: '#ffffff' },
                        border: { display: false },
                        ticks: {
                            autoSkip: false,
                            padding: 2,
                            callback: function (value) { return value.toFixed(1); }
                        }
                    }
                }
            },
            plugins: [background, overlay]
        });
    </script>
</body>
</html>
